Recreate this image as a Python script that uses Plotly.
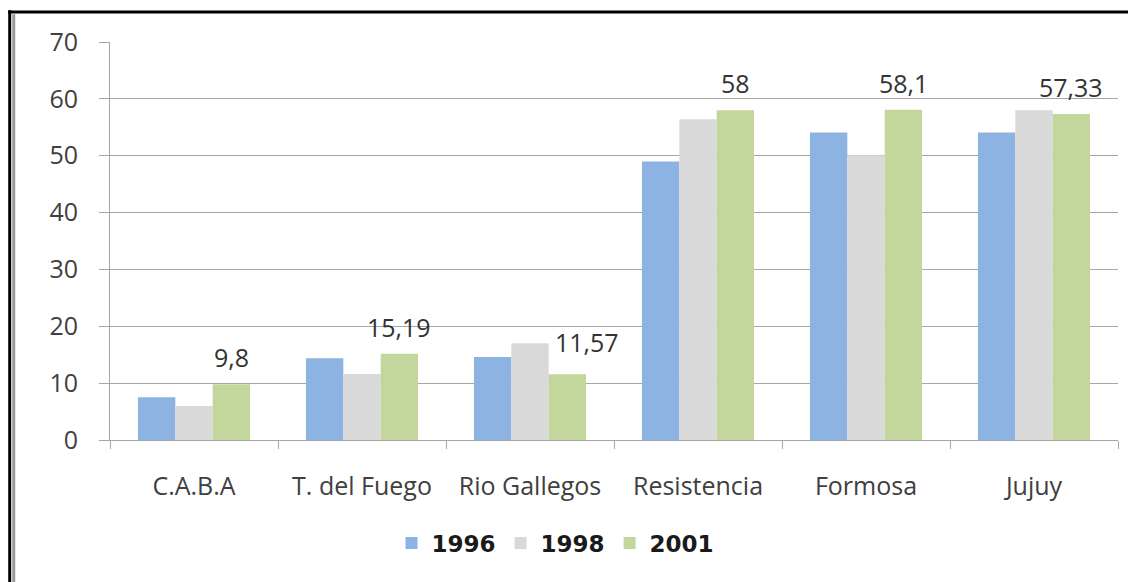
import plotly.graph_objects as go

# values
cities = ["C.A.B.A", "T. del Fuego", "Rio Gallegos", "Resistencia", "Formosa", "Jujuy"]
y1996 = [7.5, 14.4, 14.6, 49.0, 54.1, 54.1]
y1998 = [6.0, 11.6, 17.0, 56.4, 50.1, 58.0]
y2001 = [9.8, 15.19, 11.57, 58.0, 58.1, 57.33]
labels_2001 = ["9,8", "15,19", "11,57", "58", "58,1", "57,33"]

colors = {"1996": "#8db3e2", "1998": "#d9d9d9", "2001": "#c3d69b"}
font_family = "Open Sans, DejaVu Sans, sans-serif"

fig = go.Figure()
for name, vals in [("1996", y1996), ("1998", y1998), ("2001", y2001)]:
    fig.add_trace(go.Bar(x=cities, y=vals, name=name,
                         marker=dict(color=colors[name], line=dict(width=0))))

# data labels on the 2001 series (shifted over to the third bar of each group)
for c, v, t in zip(cities, y2001, labels_2001):
    extra = 20 if c == "Rio Gallegos" else 0
    fig.add_annotation(x=c, y=v, text=t, showarrow=False,
                       xshift=37 + extra, yshift=27 + (5 if extra else 0),
                       yanchor="middle",
                       font=dict(family=font_family, size=25, color="#333333"))

# frame lines (top and left edges of the original picture)
# the page body adds an 8px offset, so the figure is 8px smaller
fig.add_shape(type="line", xref="paper", yref="paper",
              x0=-0.101, x1=1.03, y0=1.0754, y1=1.0754,
              line=dict(color="black", width=3))
fig.add_shape(type="line", xref="paper", yref="paper",
              x0=-0.0995, x1=-0.0995, y0=1.08, y1=-0.38,
              line=dict(color="black", width=3))
fig.add_shape(type="line", xref="paper", yref="paper",
              x0=-0.0955, x1=-0.0955, y0=1.07, y1=-0.38,
              line=dict(color="#9a9a9a", width=3))

fig.update_layout(
    width=1128, height=574,
    margin=dict(l=102, r=18, t=34, b=142),
    paper_bgcolor="white", plot_bgcolor="white",
    barmode="group", bargap=0.333, bargroupgap=0,
    font=dict(family=font_family, size=25, color="#404040"),
    showlegend=True,
    legend=dict(orientation="h", x=0.442, xanchor="center", y=-0.259, yanchor="middle",
                font=dict(family="DejaVu Sans", size=23, color="#1a1a1a", weight="bold"),
                itemwidth=30, tracegroupgap=0),
)
fig.update_yaxes(range=[0, 70], dtick=10, showgrid=True, gridcolor="#a6a6a6", gridwidth=1,
                 showline=True, linecolor="#a6a6a6", linewidth=1,
                 ticks="outside", ticklen=10, tickcolor="#a6a6a6",
                 ticklabelstandoff=16, zeroline=False,
                 tickfont=dict(size=25, color="#404040"))
fig.update_xaxes(showline=True, linecolor="#a6a6a6", linewidth=1,
                 ticks="outside", tickson="boundaries", ticklen=8, tickcolor="#a6a6a6",
                 ticklabelstandoff=24,
                 tickfont=dict(size=25, color="#404040"))

fig.write_html("out.html")
